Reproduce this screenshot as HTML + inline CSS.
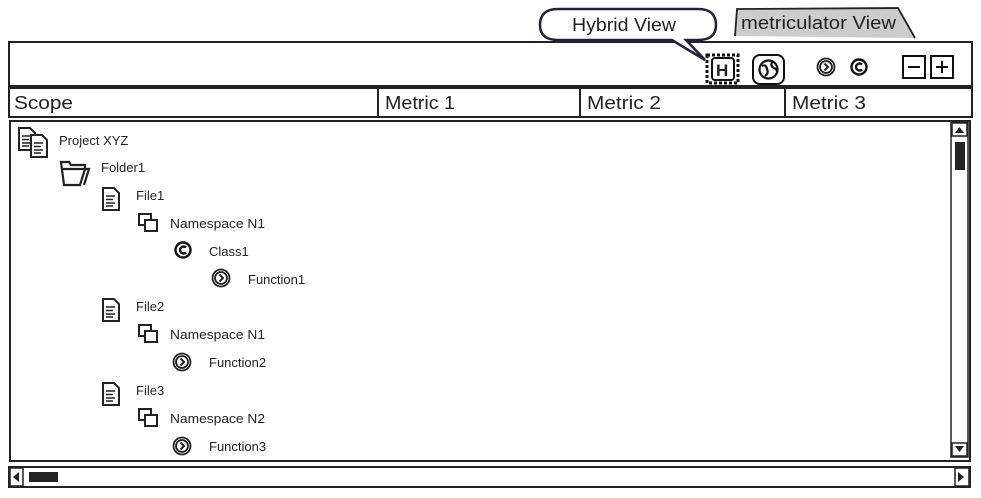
<!DOCTYPE html>
<html><head><meta charset="utf-8"><style>
html,body{margin:0;padding:0;background:#fff;}
svg{display:block;}
text{font-family:"Liberation Sans",sans-serif;fill:#222;}
</style></head><body>
<svg width="981" height="498" viewBox="0 0 981 498" xmlns="http://www.w3.org/2000/svg">
<defs>
  <g id="file"><path d="M0,0 h11 l5,5 v17 h-16 z" fill="#fff" stroke="#222" stroke-width="2"/><path d="M3,8h9M3,11.5h7M3,15h9M3,18h7" stroke="#222" stroke-width="1.4"/></g>
  <g id="ns"><rect x="0" y="0" width="12" height="11" fill="#fff" stroke="#222" stroke-width="2"/><rect x="6" y="6" width="12" height="11" fill="#fff" stroke="#222" stroke-width="2"/></g>
  <g id="fn"><circle cx="9" cy="9" r="8.5" fill="#fff" stroke="#222" stroke-width="1.8"/><circle cx="9" cy="9" r="6" fill="#fff" stroke="#222" stroke-width="1.8"/><path d="M7.5,5.5 l3.5,3.5 l-3.5,3.5" fill="none" stroke="#222" stroke-width="2"/></g>
  <g id="cls"><circle cx="8" cy="8" r="7.5" fill="#fff" stroke="#111" stroke-width="2.4"/><path d="M11,5.5 a3.5,3.5 0 1 0 0,5" fill="none" stroke="#111" stroke-width="2.4"/></g>
</defs>

<!-- tab -->
<path d="M735,36 L737,9 L898,8 L915,38" fill="#ccc" stroke="#222" stroke-width="1.8"/>
<text x="741" y="29" font-size="18" textLength="155" lengthAdjust="spacingAndGlyphs">metriculator View</text>

<!-- toolbar -->
<rect x="9" y="42" width="963" height="44" fill="#fff" stroke="#222" stroke-width="2"/>

<!-- bubble -->
<path d="M558,9 H698 Q716,9 716,25 Q716,40 698,40 H686 L705,60 L672,40 H558 Q540,40 540,25 Q540,9 558,9 Z" fill="#fff" stroke="#222240" stroke-width="2.5"/>
<text x="572" y="31" font-size="18" textLength="104" lengthAdjust="spacingAndGlyphs">Hybrid View</text>

<!-- toolbar icons -->
<rect x="707" y="55" width="31" height="28" fill="none" stroke="#111" stroke-width="3" stroke-dasharray="3,2"/>
<rect x="712" y="58" width="22" height="22" rx="3" fill="#fff" stroke="#111" stroke-width="2"/>
<text x="716" y="76" font-size="17" font-family="Liberation Serif" font-weight="bold">H</text>
<rect x="753" y="55" width="31" height="29" rx="7" fill="#fff" stroke="#111" stroke-width="2"/>
<circle cx="768.5" cy="69.5" r="9" fill="#fff" stroke="#111" stroke-width="2.2"/>
<path d="M762,66 q4,-2 5,3 q2,4 -2,7 M772,62 q-2,4 2,6 q3,1 3,4" fill="none" stroke="#111" stroke-width="2.2"/>
<use href="#fn" x="817" y="58"/>
<use href="#cls" x="851" y="59"/>
<rect x="903" y="56" width="22" height="22" fill="#fff" stroke="#111" stroke-width="2"/>
<path d="M908,67h12" stroke="#111" stroke-width="2"/>
<rect x="931" y="56" width="22" height="22" fill="#fff" stroke="#111" stroke-width="2"/>
<path d="M936,67h12M942,61v12" stroke="#111" stroke-width="2"/>

<!-- headers -->
<rect x="9" y="88" width="963" height="29" fill="#fff" stroke="#222" stroke-width="2"/>
<path d="M378,88v29M580,88v29M785,88v29" stroke="#222" stroke-width="2"/>
<text x="14" y="109" font-size="18" textLength="59" lengthAdjust="spacingAndGlyphs">Scope</text>
<text x="385" y="109" font-size="18" textLength="70" lengthAdjust="spacingAndGlyphs">Metric 1</text>
<text x="587" y="109" font-size="18" textLength="74" lengthAdjust="spacingAndGlyphs">Metric 2</text>
<text x="792" y="109" font-size="18" textLength="74" lengthAdjust="spacingAndGlyphs">Metric 3</text>

<!-- tree panel -->
<rect x="10" y="121" width="960" height="340" fill="#fff" stroke="#222" stroke-width="2"/>
<rect x="951" y="122" width="17" height="335" fill="#fff" stroke="#222" stroke-width="1.5"/>
<rect x="952" y="123" width="15" height="13" fill="#fff" stroke="#222" stroke-width="1.5"/>
<path d="M955,133 l4.5,-6 l4.5,6z" fill="#222"/>
<rect x="955" y="142" width="10" height="28" fill="#222"/>
<rect x="952" y="443" width="15" height="13" fill="#fff" stroke="#222" stroke-width="1.5"/>
<path d="M955,446 l4.5,6 l4.5,-6z" fill="#222"/>

<!-- h scrollbar -->
<rect x="9" y="467" width="961" height="20" fill="#fff" stroke="#222" stroke-width="2"/>
<rect x="10" y="468" width="13" height="18" fill="#fff" stroke="#222" stroke-width="1.5"/>
<path d="M19,472 l-6,5 l6,5z" fill="#222"/>
<rect x="29" y="472" width="29" height="10" fill="#222"/>
<rect x="955" y="468" width="14" height="18" fill="#fff" stroke="#222" stroke-width="1.5"/>
<path d="M958,472 l6,5 l-6,5z" fill="#222"/>

<!-- tree items -->
<g font-size="13">
<use href="#file" x="19" y="128"/><use href="#file" x="31" y="135"/>
<text x="59" y="145">Project XYZ</text>
<path d="M61,162 h8 l2,3 h14 v4 l-5,16 h-16 z" fill="#fff" stroke="#222" stroke-width="2.2"/><path d="M61,169 h28 l-5,16" fill="none" stroke="#222" stroke-width="2.2"/>
<text x="101" y="172">Folder1</text>
<use href="#file" x="103" y="188"/><text x="136" y="200">File1</text>
<use href="#ns" x="139" y="214"/><text x="170" y="228" textLength="95" lengthAdjust="spacingAndGlyphs">Namespace N1</text>
<use href="#cls" x="175" y="242"/><text x="209" y="256">Class1</text>
<use href="#fn" x="212" y="269"/><text x="248" y="284">Function1</text>
<use href="#file" x="103" y="299"/><text x="136" y="311">File2</text>
<use href="#ns" x="139" y="325"/><text x="170" y="339" textLength="95" lengthAdjust="spacingAndGlyphs">Namespace N1</text>
<use href="#fn" x="173" y="353"/><text x="209" y="367">Function2</text>
<use href="#file" x="103" y="383"/><text x="136" y="395">File3</text>
<use href="#ns" x="139" y="409"/><text x="170" y="423" textLength="95" lengthAdjust="spacingAndGlyphs">Namespace N2</text>
<use href="#fn" x="173" y="437"/><text x="209" y="451">Function3</text>
</g>
</svg>
</body></html>
